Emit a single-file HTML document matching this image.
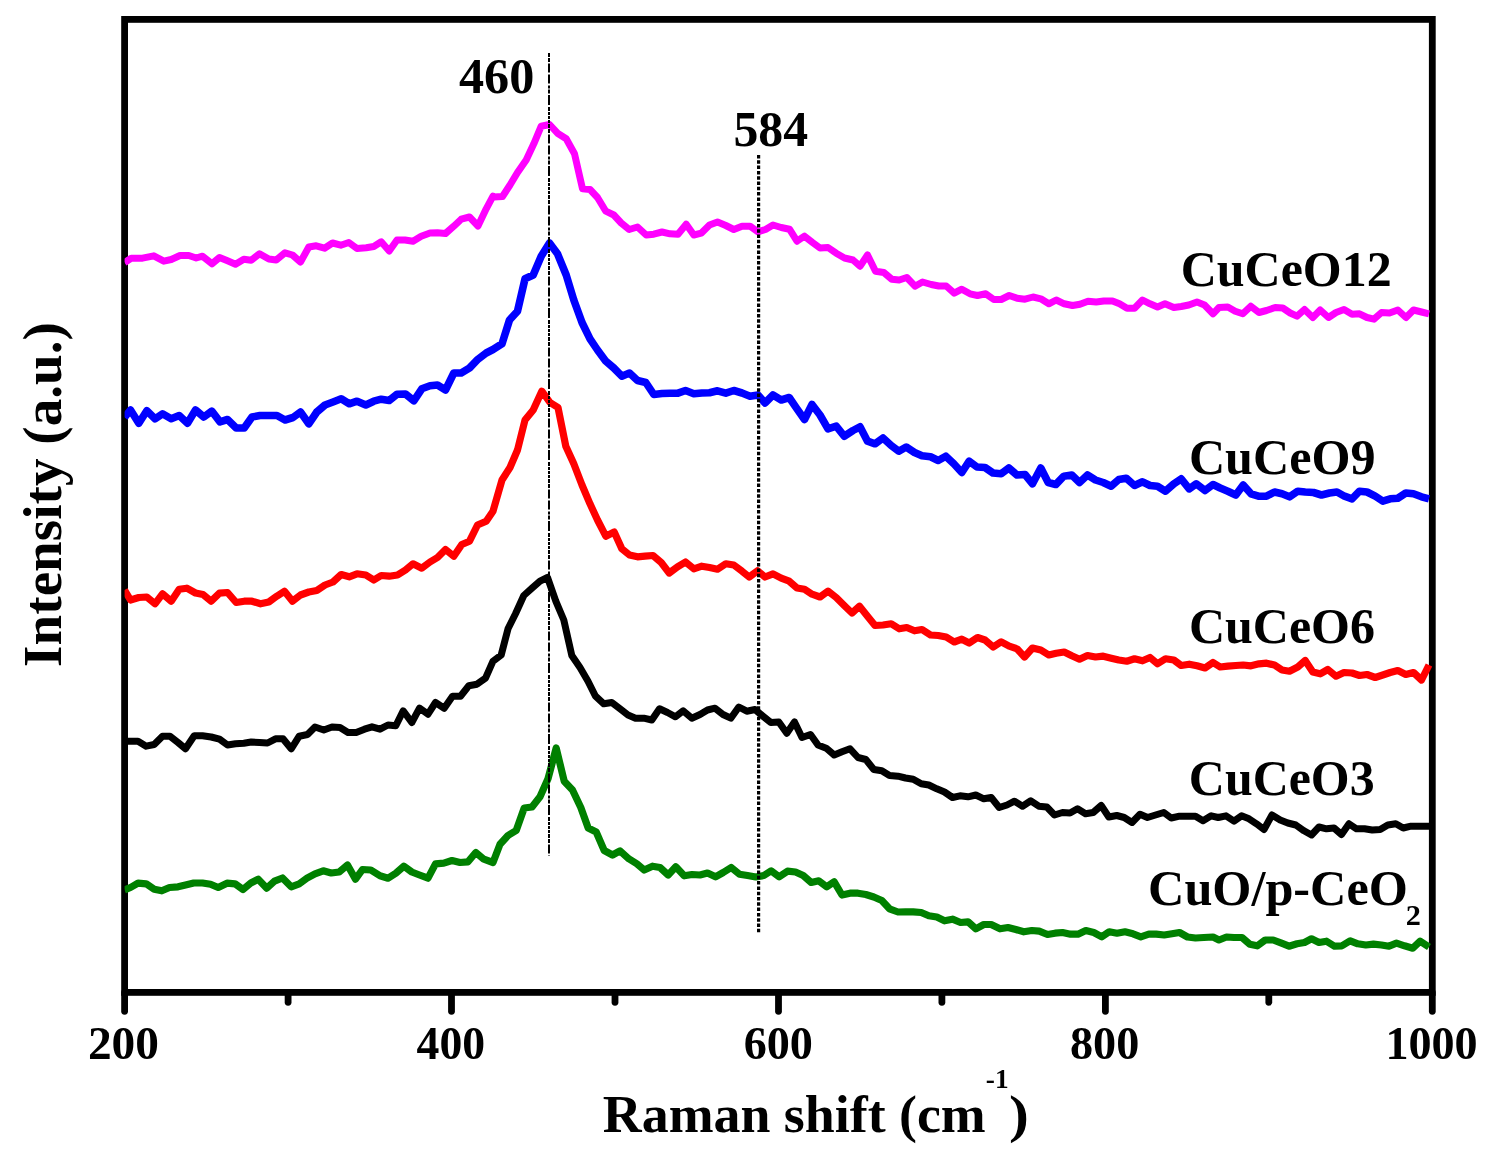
<!DOCTYPE html>
<html lang="en"><head><meta charset="utf-8"><title>Raman spectra</title>
<style>html,body{margin:0;padding:0;background:#fff}svg{display:block}</style></head>
<body>
<svg width="1492" height="1161" viewBox="0 0 1492 1161">
<rect width="1492" height="1161" fill="#fff"/>
<defs><clipPath id="cp"><rect x="124.6" y="19.4" width="1307.7" height="973.0"/></clipPath></defs>
<rect x="124.6" y="19.4" width="1307.7" height="973.0" fill="none" stroke="#000" stroke-width="6.8"/>
<g clip-path="url(#cp)" fill="none" stroke-linejoin="round" stroke-linecap="butt">
<polyline points="124.5,262.5 131.2,258.2 142.5,258.2 153.8,255.8 163.8,261.2 171.2,259.5 180.0,255.5 188.8,255.5 196.2,258.0 202.5,256.2 212.0,263.8 219.5,257.5 227.5,260.8 235.5,264.2 243.8,259.2 251.2,260.2 259.5,253.8 268.8,259.0 276.2,260.0 285.0,252.8 292.5,255.0 300.5,262.0 308.8,247.0 316.2,245.8 324.5,248.2 332.5,243.0 340.8,245.2 348.8,242.5 357.0,248.5 366.2,247.8 373.8,246.5 381.2,241.8 389.2,251.0 397.0,240.0 405.0,240.0 413.0,241.2 421.2,236.2 430.0,233.0 437.5,232.8 445.5,233.5 453.8,226.2 461.2,219.2 469.5,217.0 478.0,226.0 486.2,208.8 493.0,196.2 493.8,197.0 502.5,196.5 510.0,185.0 517.5,172.5 526.2,160.0 533.8,143.8 541.2,126.2 549.5,124.5 557.5,133.2 566.2,138.8 574.5,153.8 582.5,188.8 590.0,189.5 597.5,197.5 605.8,211.2 613.8,215.0 621.2,223.0 629.2,229.5 637.5,227.0 646.2,235.0 653.8,234.2 662.0,232.0 670.0,233.8 678.0,234.2 686.2,224.2 693.8,235.0 701.2,233.2 709.5,225.0 717.5,222.0 725.8,225.5 733.8,229.5 742.0,226.2 750.0,226.2 758.0,231.8 765.5,229.5 773.0,225.0 781.2,227.5 789.5,229.2 797.0,241.2 804.5,236.2 812.5,242.5 820.0,248.0 828.0,247.5 836.2,253.2 844.5,258.0 853.0,260.0 860.0,266.2 867.5,255.0 875.5,271.2 883.8,272.5 891.8,279.2 899.2,280.0 906.8,277.5 915.0,286.2 922.5,282.0 931.2,284.5 938.8,286.0 946.2,286.0 954.2,293.2 961.8,289.2 970.0,293.8 977.5,295.5 985.8,293.8 993.8,299.5 1001.2,299.5 1009.2,295.5 1017.0,298.2 1025.0,299.2 1033.0,297.0 1040.8,298.8 1048.8,303.8 1056.2,300.0 1064.2,303.8 1072.5,305.5 1080.0,304.2 1088.0,301.2 1096.2,302.0 1103.8,301.0 1112.5,301.0 1119.5,303.8 1127.0,308.2 1134.5,308.2 1142.5,300.0 1150.0,303.8 1157.5,307.0 1165.0,303.8 1173.8,307.5 1181.2,306.5 1188.8,305.0 1197.0,302.0 1204.5,305.0 1213.0,313.8 1219.0,307.5 1227.8,307.0 1235.2,311.2 1242.8,313.8 1250.8,306.2 1259.0,312.5 1266.5,310.5 1275.2,307.5 1282.8,308.0 1290.2,313.0 1297.0,316.2 1304.5,309.5 1312.8,317.5 1320.2,310.0 1328.5,317.5 1336.0,312.5 1344.0,309.5 1352.0,314.2 1359.5,313.8 1367.0,317.5 1374.0,319.2 1381.5,312.5 1389.5,313.0 1397.8,310.0 1406.0,317.5 1413.5,310.0 1421.5,312.0 1429.0,313.8" stroke="#ff00ff" stroke-width="7.0"/>
<polyline points="124.5,417.5 130.5,410.0 138.8,423.2 146.8,410.8 155.0,418.8 162.5,413.8 171.2,418.8 179.2,415.5 187.5,423.2 195.5,410.0 203.8,417.0 211.8,411.2 220.0,421.8 227.5,419.5 236.2,428.0 244.2,428.0 252.0,417.0 260.0,415.5 268.8,415.5 277.0,415.5 285.0,420.0 293.0,417.5 300.5,412.0 308.8,423.8 316.8,412.0 325.0,405.0 333.0,402.0 341.2,398.8 349.2,403.8 357.0,401.2 365.8,405.0 373.8,401.2 381.2,399.2 389.2,400.5 397.0,394.2 405.5,394.0 413.8,400.8 421.8,388.8 430.0,385.8 437.5,385.0 445.5,390.0 453.8,373.0 461.2,373.0 469.5,368.0 478.0,359.2 486.2,353.0 493.0,349.5 502.0,343.8 509.5,320.0 517.5,311.2 525.0,278.8 533.2,275.0 541.2,256.2 549.5,243.0 557.5,253.8 566.2,275.0 573.8,300.0 582.0,322.5 590.0,338.8 597.5,350.0 605.8,361.2 613.8,368.0 621.8,376.2 629.5,373.0 637.5,380.5 645.8,382.5 653.8,394.5 662.0,393.5 670.0,393.2 678.0,393.2 685.5,390.5 693.8,393.8 701.8,393.0 709.5,392.8 717.5,390.8 725.8,393.2 733.8,390.5 742.0,393.0 750.0,396.2 758.0,395.0 765.0,403.0 773.0,395.0 781.2,400.0 789.2,397.5 797.0,408.8 804.5,419.5 812.0,404.5 820.0,415.0 828.0,428.8 836.2,426.2 844.2,436.2 853.0,430.5 860.0,426.8 867.5,441.2 875.0,443.8 883.0,438.0 891.2,445.5 898.8,451.2 906.2,447.0 914.5,452.5 922.0,455.8 930.5,456.8 938.2,460.5 945.8,456.2 953.8,463.8 961.8,472.5 969.2,461.2 977.0,467.0 985.0,467.5 993.0,473.0 1001.2,473.8 1008.8,468.0 1017.0,475.0 1025.0,474.5 1032.5,483.8 1040.8,468.0 1048.2,482.5 1055.8,484.5 1063.8,476.2 1071.8,475.0 1079.5,482.5 1087.5,475.0 1095.5,480.0 1103.2,482.5 1111.2,486.2 1118.8,479.5 1126.2,478.2 1134.5,485.5 1142.5,481.8 1150.0,485.5 1157.5,486.2 1165.5,491.2 1173.8,483.8 1181.2,478.8 1189.2,488.8 1196.2,483.8 1205.0,490.5 1213.0,484.5 1220.2,488.0 1227.8,491.2 1235.8,495.0 1243.2,485.0 1251.0,493.8 1258.5,496.2 1266.5,496.2 1274.5,492.0 1282.0,493.8 1289.5,496.8 1297.8,491.2 1305.2,492.0 1313.5,492.5 1321.5,495.0 1329.5,493.0 1337.0,492.0 1344.5,496.2 1352.0,498.8 1359.5,491.2 1367.0,492.0 1375.2,496.2 1382.8,501.2 1390.2,498.8 1397.8,498.2 1405.8,493.0 1413.5,493.8 1421.5,496.8 1429.0,498.8" stroke="#0000ff" stroke-width="7.6"/>
<polyline points="124.5,590.0 130.5,600.0 138.8,597.5 146.8,597.0 155.0,603.8 162.5,593.8 171.2,601.2 179.2,589.2 186.8,588.2 195.5,593.0 203.0,594.5 211.2,601.2 219.5,593.2 227.5,592.5 236.2,602.5 244.2,601.2 252.0,601.2 260.5,603.8 268.8,602.0 276.8,596.2 284.5,591.2 292.5,601.2 300.5,595.0 308.8,592.0 316.8,590.5 325.0,585.0 333.0,582.0 341.2,574.5 349.2,576.8 357.0,573.8 365.8,575.0 373.8,580.0 381.2,575.5 389.2,576.2 397.5,575.0 405.5,570.0 413.0,563.8 421.8,568.2 430.0,562.0 437.5,557.5 445.5,549.5 453.8,556.2 461.8,544.5 469.5,541.2 477.5,525.0 486.2,521.2 493.0,511.2 502.0,480.0 510.0,467.5 517.5,450.0 525.0,420.0 533.2,410.0 541.8,391.2 550.0,402.5 558.0,407.5 565.8,446.2 573.8,463.8 582.0,485.0 590.0,503.8 597.5,520.0 605.8,536.2 614.2,532.0 621.8,548.8 629.5,555.0 637.5,556.8 645.0,556.2 653.0,555.5 661.2,562.5 669.2,573.0 677.5,566.8 685.5,562.0 693.8,568.8 701.8,566.2 709.5,567.5 717.5,569.2 725.8,563.8 733.8,565.0 742.0,571.2 749.2,577.0 757.5,570.8 765.0,577.0 773.0,573.8 781.2,578.2 789.2,581.2 797.0,588.0 804.5,589.2 812.0,594.2 820.0,597.0 828.0,591.2 836.2,597.5 844.2,605.5 852.0,613.0 859.5,606.2 867.5,616.2 875.0,625.5 883.0,625.0 891.2,623.8 899.2,628.8 906.8,627.5 914.5,630.8 922.0,629.5 930.5,635.0 938.2,635.5 946.2,637.0 954.2,642.0 961.8,639.2 969.2,643.0 977.5,637.5 985.0,640.0 993.2,647.0 1001.2,641.8 1009.2,646.2 1017.0,648.8 1024.5,657.0 1032.5,648.0 1040.8,650.0 1048.8,655.0 1056.2,653.2 1064.2,652.0 1071.8,655.8 1079.5,659.2 1087.5,655.5 1095.5,657.0 1103.2,656.2 1111.2,658.2 1118.8,660.0 1126.8,661.2 1134.5,658.8 1142.5,660.8 1150.0,657.5 1157.5,663.8 1165.5,658.8 1173.8,660.0 1181.2,665.5 1189.2,664.2 1197.0,665.8 1205.0,668.0 1213.0,662.5 1220.2,667.0 1227.8,666.2 1235.8,665.5 1243.2,665.0 1251.0,665.8 1259.0,663.8 1266.5,663.2 1274.5,665.0 1282.0,670.0 1289.5,671.2 1297.8,667.0 1305.2,660.5 1312.8,672.0 1320.2,673.8 1327.8,669.5 1336.0,676.2 1344.0,672.5 1352.0,673.0 1359.5,675.5 1367.0,674.5 1375.2,677.5 1382.8,675.0 1390.2,672.5 1397.8,670.5 1405.8,674.5 1413.5,672.5 1421.5,680.0 1429.0,665.0" stroke="#ff0000" stroke-width="7.2"/>
<polyline points="124.5,741.2 130.5,741.2 138.0,741.2 146.2,746.2 154.2,744.5 162.5,736.2 170.0,736.2 178.0,742.5 185.5,748.8 194.2,735.8 202.5,735.8 211.2,737.0 219.5,739.2 227.5,745.0 235.5,743.8 243.8,743.2 251.2,742.0 259.5,742.5 267.5,743.0 275.5,738.8 283.0,738.8 291.2,748.8 299.2,736.2 307.5,734.5 315.0,727.0 323.8,730.0 332.0,727.0 340.0,727.5 348.0,732.5 356.2,732.5 364.5,729.2 372.0,726.8 380.0,729.2 388.0,725.0 395.8,725.8 403.2,710.8 411.8,722.5 419.5,708.2 428.0,714.2 435.5,702.5 444.2,708.2 452.5,696.2 460.5,696.2 468.8,685.8 477.0,684.2 485.5,678.2 493.0,661.2 501.2,655.0 508.0,628.8 515.5,613.8 523.8,595.5 532.0,588.2 540.0,581.2 547.5,577.5 555.8,601.2 563.8,620.0 571.8,655.5 580.0,667.5 588.0,681.2 595.5,696.2 603.8,703.8 611.8,702.5 620.0,708.8 628.0,715.0 635.5,718.2 643.8,718.2 651.8,720.0 659.5,708.8 667.5,712.5 675.5,716.8 683.2,710.8 691.8,718.2 700.0,714.5 707.5,710.0 715.0,708.2 723.0,714.5 730.8,718.2 738.8,707.0 746.8,711.2 755.0,709.5 763.0,716.2 770.8,722.5 778.8,722.0 786.8,733.2 794.5,722.0 802.0,737.5 810.5,734.5 818.0,745.0 826.2,748.2 834.2,755.0 842.0,751.8 850.0,748.8 858.0,757.5 865.8,759.5 873.8,769.5 881.8,770.8 889.5,775.5 898.0,776.2 905.5,778.0 913.2,779.2 921.2,783.8 928.8,785.0 936.8,788.8 944.5,792.0 952.5,797.5 960.0,795.8 968.0,796.8 975.8,795.0 983.8,798.8 991.2,797.5 999.2,807.5 1007.0,805.0 1014.5,801.2 1022.5,806.2 1030.8,800.8 1038.8,806.2 1046.8,807.0 1054.5,815.0 1062.5,812.5 1070.0,813.0 1077.5,808.8 1085.5,813.8 1093.2,812.5 1101.2,805.5 1108.8,817.0 1116.8,815.5 1124.2,817.5 1132.0,822.5 1140.0,814.2 1147.5,817.5 1155.5,815.0 1163.8,812.5 1171.2,818.0 1179.5,816.2 1187.5,816.2 1195.5,816.2 1203.0,820.8 1211.2,815.8 1218.2,817.5 1226.0,815.8 1234.0,821.2 1241.5,815.8 1249.0,818.8 1256.5,823.8 1264.0,829.5 1272.0,815.0 1280.2,820.0 1287.8,823.0 1295.8,825.0 1304.0,830.8 1311.5,835.0 1319.0,827.0 1326.5,828.8 1334.0,828.0 1341.5,834.5 1349.0,823.8 1356.5,828.8 1364.5,828.8 1372.2,830.0 1380.2,829.5 1387.8,825.0 1395.8,823.8 1403.2,828.0 1411.0,826.2 1419.0,826.2 1429.0,826.2" stroke="#000000" stroke-width="7.0"/>
<polyline points="124.5,890.0 130.5,887.5 138.0,883.2 146.2,883.8 154.2,889.2 161.8,890.8 169.5,887.5 178.0,886.8 185.5,885.0 193.8,883.0 202.5,883.0 210.5,884.2 218.2,887.5 227.0,883.2 235.0,883.8 243.0,889.5 250.8,883.0 258.2,879.2 266.8,888.2 274.5,881.2 282.5,878.0 291.2,886.8 299.2,883.8 307.0,878.2 315.0,873.8 323.2,870.8 331.2,873.0 339.2,872.0 347.5,865.0 355.5,879.2 362.5,869.5 370.8,870.0 380.0,875.8 388.0,878.2 395.8,873.2 403.8,866.2 411.8,872.0 419.5,875.0 428.0,878.2 435.5,863.8 443.8,863.2 452.0,860.5 460.0,862.5 468.0,861.8 475.8,852.5 483.8,859.2 493.0,862.5 500.0,844.2 508.0,835.5 516.2,830.5 524.2,808.0 532.0,807.0 540.0,796.8 548.0,778.8 556.2,748.0 564.2,781.2 572.5,790.0 580.8,807.5 588.2,828.0 596.2,832.0 604.2,850.5 612.5,855.0 620.0,850.8 628.8,858.8 636.8,863.8 644.2,870.0 652.5,866.2 660.0,867.5 668.2,875.0 675.8,866.8 684.2,875.8 692.0,874.5 700.0,875.0 707.5,873.0 715.5,876.8 723.2,872.5 731.2,867.5 739.5,874.2 747.5,875.5 755.8,877.0 763.8,875.5 771.2,870.8 779.2,876.8 787.5,871.2 795.5,872.0 803.2,875.5 811.2,882.5 818.8,880.8 826.8,886.8 834.2,881.8 842.0,895.0 850.0,893.2 858.0,893.2 865.8,894.5 873.8,897.0 881.8,900.5 889.5,908.8 898.0,912.0 905.5,911.8 913.2,911.8 921.2,912.5 928.8,915.8 936.8,917.0 944.5,920.8 952.5,919.2 960.5,922.5 968.0,921.8 975.8,928.8 983.8,924.5 991.2,924.5 1000.0,928.8 1008.0,927.5 1015.8,929.5 1023.8,931.8 1031.8,930.5 1039.2,931.2 1047.5,934.5 1055.0,933.2 1062.5,932.5 1070.5,934.2 1078.0,934.2 1085.8,930.5 1093.8,932.5 1101.8,936.8 1109.2,931.8 1117.0,933.2 1125.0,931.8 1133.0,933.8 1140.8,936.8 1148.8,934.2 1156.2,934.2 1164.2,935.0 1172.0,933.8 1179.5,932.5 1187.5,937.0 1195.5,938.0 1203.8,937.5 1213.0,937.0 1219.0,940.0 1226.5,937.0 1234.0,937.5 1242.0,937.5 1249.8,944.2 1257.2,945.8 1265.2,940.0 1273.2,940.0 1281.5,943.2 1289.0,946.2 1297.0,943.8 1304.5,942.5 1311.5,938.8 1319.0,942.5 1326.5,941.2 1334.5,946.2 1342.0,945.8 1350.2,940.8 1357.8,943.8 1365.8,945.0 1373.5,944.2 1381.5,945.0 1389.0,946.2 1396.5,943.2 1404.5,945.8 1412.8,948.2 1420.2,941.2 1429.0,947.0" stroke="#008000" stroke-width="7.2"/>
</g>
<line x1="549" y1="53" x2="549" y2="856" stroke="#000" stroke-width="2" stroke-dasharray="4 1 4 1.5 9 2 9 2 3 1 4 1.5 10 2 4 1 3 1 3 1 3 1"/>
<line x1="758.6" y1="155" x2="758.6" y2="932.5" stroke="#000" stroke-width="3.2" stroke-dasharray="3.5 1.8"/>
<line x1="124.6" y1="992.4" x2="124.6" y2="1011.3" stroke="#000" stroke-width="6.8" stroke-linecap="round"/>
<line x1="288.1" y1="992.4" x2="288.1" y2="1002.3" stroke="#000" stroke-width="6.8" stroke-linecap="round"/>
<line x1="451.5" y1="992.4" x2="451.5" y2="1011.3" stroke="#000" stroke-width="6.8" stroke-linecap="round"/>
<line x1="615.0" y1="992.4" x2="615.0" y2="1002.3" stroke="#000" stroke-width="6.8" stroke-linecap="round"/>
<line x1="778.5" y1="992.4" x2="778.5" y2="1011.3" stroke="#000" stroke-width="6.8" stroke-linecap="round"/>
<line x1="941.9" y1="992.4" x2="941.9" y2="1002.3" stroke="#000" stroke-width="6.8" stroke-linecap="round"/>
<line x1="1105.4" y1="992.4" x2="1105.4" y2="1011.3" stroke="#000" stroke-width="6.8" stroke-linecap="round"/>
<line x1="1268.8" y1="992.4" x2="1268.8" y2="1002.3" stroke="#000" stroke-width="6.8" stroke-linecap="round"/>
<line x1="1432.3" y1="992.4" x2="1432.3" y2="1011.3" stroke="#000" stroke-width="6.8" stroke-linecap="round"/>
<text transform="translate(87.92,1059.15) scale(1.0299,0.9968)" font-size="46" font-family="'Liberation Serif', serif" font-weight="bold" fill="#000">200</text>
<text transform="translate(416.6,1059.15) scale(0.994,0.9968)" font-size="46" font-family="'Liberation Serif', serif" font-weight="bold" fill="#000">400</text>
<text transform="translate(743.7,1059.15) scale(1.0038,0.9968)" font-size="46" font-family="'Liberation Serif', serif" font-weight="bold" fill="#000">600</text>
<text transform="translate(1070.02,1059.15) scale(1.0046,0.9968)" font-size="46" font-family="'Liberation Serif', serif" font-weight="bold" fill="#000">800</text>
<text transform="translate(1385.48,1059.15) scale(1.0023,0.9968)" font-size="46" font-family="'Liberation Serif', serif" font-weight="bold" fill="#000">1000</text>
<text transform="translate(459.0,93.07) scale(1.0153,1.0388)" font-size="49.5" font-family="'Liberation Serif', serif" font-weight="bold" fill="#000">460</text>
<text transform="translate(733.43,146.4) scale(1.0049,1.0433)" font-size="49.5" font-family="'Liberation Serif', serif" font-weight="bold" fill="#000">584</text>
<text transform="translate(1180.75,285.65) scale(1.0095,1.0226)" font-size="49.5" font-family="'Liberation Serif', serif" font-weight="bold" fill="#000">CuCeO12</text>
<text transform="translate(1188.9,474.35) scale(1.0131,1.0226)" font-size="49.5" font-family="'Liberation Serif', serif" font-weight="bold" fill="#000">CuCeO9</text>
<text transform="translate(1188.9,642.67) scale(1.0103,1.0241)" font-size="49.5" font-family="'Liberation Serif', serif" font-weight="bold" fill="#000">CuCeO6</text>
<text transform="translate(1188.85,795.27) scale(1.0086,1.0196)" font-size="49.5" font-family="'Liberation Serif', serif" font-weight="bold" fill="#000">CuCeO3</text>
<text transform="translate(1148.1,905.45) scale(1.0158,1.0127)" font-size="49.5" font-family="'Liberation Serif', serif" font-weight="bold" fill="#000">CuO/p-CeO</text>
<text transform="translate(1405.75,925.1) scale(1.0638,1.016)" font-size="28.5" font-family="'Liberation Serif', serif" font-weight="bold" fill="#000">2</text>
<text transform="translate(602.85,1131.5) scale(1.0356,1.024)" font-size="52" font-family="'Liberation Serif', serif" font-weight="bold" fill="#000">Raman shift (cm</text>
<text transform="translate(985.82,1088.48) scale(1.0521,1.032)" font-size="26" font-family="'Liberation Serif', serif" font-weight="bold" fill="#000">-1</text>
<text transform="translate(1008.92,1132.27) scale(1.1473,1.024)" font-size="52" font-family="'Liberation Serif', serif" font-weight="bold" fill="#000">)</text>
<text transform="translate(61.1,666.9) rotate(-90) scale(1.0218,1.005)" font-size="54" font-family="'Liberation Serif', serif" font-weight="bold" fill="#000">Intensity (a.u.)</text>
</svg>
</body></html>
